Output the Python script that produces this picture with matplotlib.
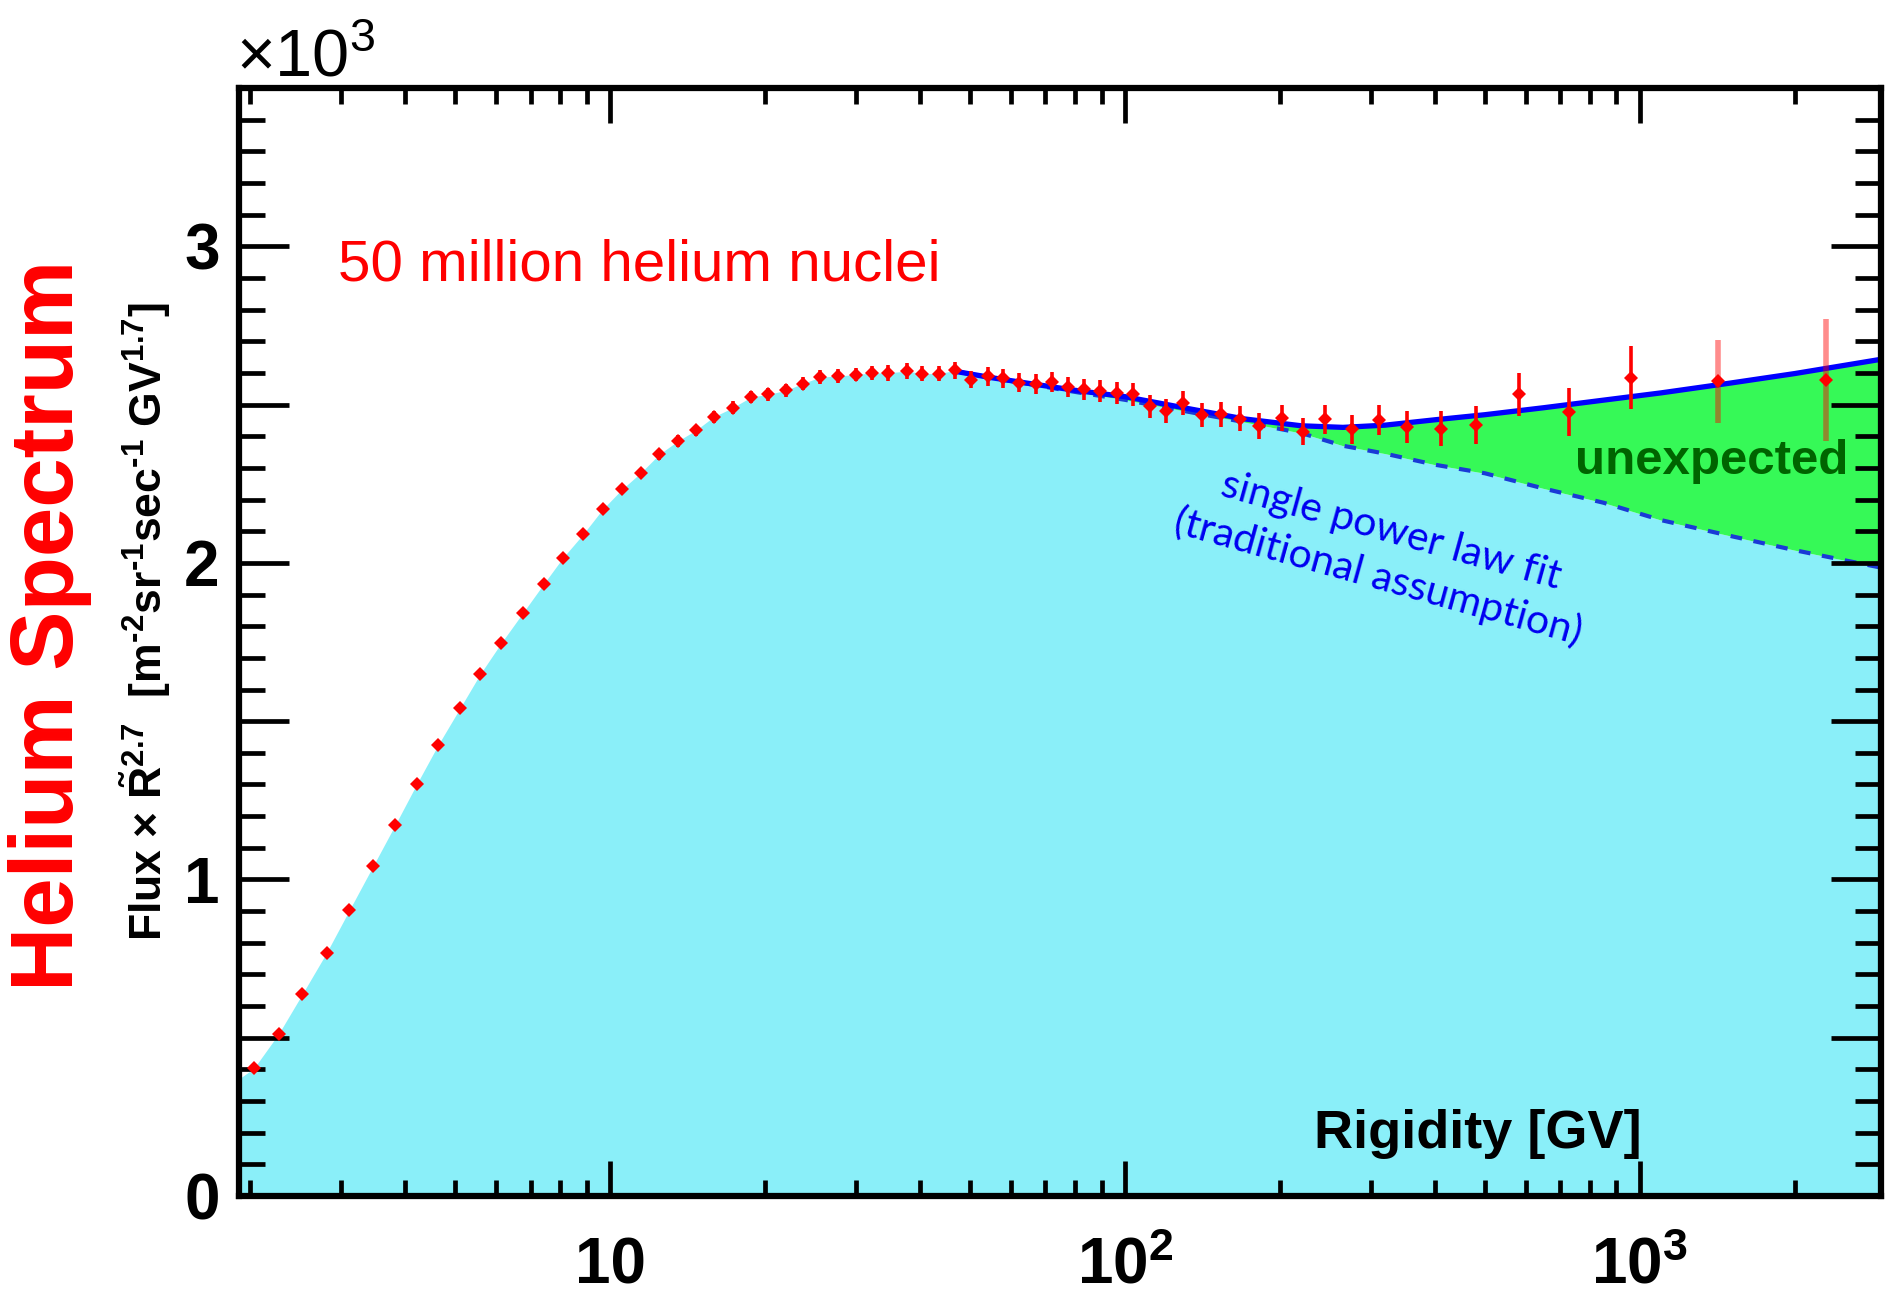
import numpy as np
import matplotlib
matplotlib.use("Agg")
import matplotlib.pyplot as plt
from matplotlib.ticker import (FixedLocator, MultipleLocator, NullFormatter,
                               FuncFormatter, LogLocator)

plt.rcParams['font.family'] = ['Liberation Sans', 'DejaVu Sans']
plt.rcParams['mathtext.default'] = 'regular'

# Helium flux x R^2.7 (units of 10^3 m^-2 sr^-1 s^-1 GV^1.7) vs rigidity (GV)
rigidity = [2.03, 2.27, 2.52, 2.81, 3.11, 3.46, 3.82, 4.21, 4.63, 5.11,
            5.59, 6.14, 6.77, 7.42, 8.08, 8.85, 9.66, 10.53, 11.47, 12.45,
            13.53, 14.67, 15.87, 17.28, 18.78, 20.24, 21.93, 23.63, 25.57, 27.63,
            30.00, 32.23, 34.56, 37.68, 40.29, 43.41, 46.77, 50.16, 54.11, 58.04,
            62.27, 67.19, 72.05, 77.6, 83.4, 89.4, 96.3, 103.8, 111.8, 120.1,
            129.8, 140.9, 153.6, 167.2, 182.3, 201.5, 221.3, 244.5, 275.4, 311.3,
            352.4, 410.9, 480.4, 582.1, 727.9, 960.5, 1419.0, 2304.0]
flux = [0.403, 0.513, 0.637, 0.768, 0.902, 1.042, 1.172, 1.302, 1.425, 1.542,
        1.649, 1.747, 1.843, 1.933, 2.015, 2.090, 2.169, 2.232, 2.285, 2.343,
        2.385, 2.419, 2.461, 2.490, 2.524, 2.532, 2.545, 2.566, 2.587, 2.590,
        2.595, 2.600, 2.600, 2.606, 2.598, 2.598, 2.608, 2.579, 2.590, 2.583,
        2.569, 2.564, 2.572, 2.556, 2.548, 2.543, 2.537, 2.532, 2.495, 2.480,
        2.506, 2.467, 2.469, 2.456, 2.432, 2.458, 2.414, 2.453, 2.422, 2.451,
        2.429, 2.424, 2.434, 2.532, 2.476, 2.585, 2.574, 2.577]
flux_err = [0.010, 0.010, 0.010, 0.010, 0.010, 0.010, 0.010, 0.010, 0.010, 0.010,
            0.012, 0.012, 0.012, 0.012, 0.012, 0.015, 0.015, 0.015, 0.015, 0.018,
            0.018, 0.018, 0.020, 0.020, 0.020, 0.020, 0.020, 0.020, 0.022, 0.022,
            0.022, 0.022, 0.024, 0.024, 0.024, 0.025, 0.028, 0.028, 0.030, 0.030,
            0.030, 0.032, 0.032, 0.032, 0.034, 0.034, 0.035, 0.035, 0.036, 0.037,
            0.038, 0.039, 0.040, 0.040, 0.041, 0.042, 0.043, 0.045, 0.046, 0.048,
            0.050, 0.056, 0.060, 0.068, 0.076, 0.099, 0.131, 0.193]

# Fitted curves above 45 GV
fit_R = [46.8, 55, 65, 80, 100, 130, 170, 220, 265, 320, 400, 500, 650, 850,
         1100, 1500, 2000, 2940]
fit_broken = [2.605, 2.585, 2.567, 2.545, 2.525, 2.490, 2.455, 2.433, 2.428, 2.435,
              2.452, 2.468, 2.490, 2.514, 2.537, 2.568, 2.598, 2.643]
fit_single = [2.605, 2.585, 2.565, 2.540, 2.515, 2.480, 2.445, 2.410, 2.370, 2.345,
              2.310, 2.283, 2.235, 2.190, 2.135, 2.085, 2.040, 1.985]

# Spectrum value at the lower edge of the rigidity range
edge_R = 1.9
edge_flux = 0.37

CYAN = '#8AEFF9'
GREEN = '#36F957'

fig = plt.figure(figsize=(18.94, 12.94), dpi=100)
ax = fig.add_axes([0.1262, 0.0757, 0.8669, 0.8563])
ax.set_xscale('log')
ax.set_xlim(1.9, 2940)
ax.set_ylim(0, 3.5)

# Shaded areas: expected spectrum (cyan) and the excess over a single power law (green)
low_R = [r for r in rigidity if r < fit_R[0]]
low_F = [f for r, f in zip(rigidity, flux) if r < fit_R[0]]
bound_R = [edge_R] + low_R + fit_R
bound_F = [edge_flux] + low_F + fit_single
ax.fill_between(bound_R, 0, bound_F, color=CYAN, lw=0, zorder=1)
ax.fill_between(fit_R, fit_single, fit_broken, color=GREEN, lw=0, zorder=1.1)

ax.plot(fit_R, fit_single, color='#1A3AD6', lw=3.0, dashes=(2.8, 2.8), zorder=2)
ax.plot(fit_R, fit_broken, color='#0000FF', lw=3.8, zorder=2.1)

# Measurements
R = np.array(rigidity)
F = np.array(flux)
E = np.array(flux_err)
solid = R < 1000
ax.errorbar(R[solid], F[solid], yerr=E[solid], fmt='none', ecolor='#FF0000',
            elinewidth=2.6, capsize=0, zorder=3)
ax.errorbar(R[~solid], F[~solid], yerr=E[~solid], fmt='none', ecolor='#FF0000',
            elinewidth=4.0, capsize=0, alpha=0.45, zorder=3)
ax.plot(R, F, 'D', color='#FF0000', ms=7.0, mew=0, zorder=3.2)

# Axes styling
ax.set_axisbelow(False)
ax.xaxis.set_major_locator(FixedLocator([10, 100, 1000]))
ax.set_xticklabels(['10', '10$^{2}$', '10$^{3}$'])
ax.xaxis.set_minor_locator(LogLocator(base=10, subs=np.arange(2, 10), numticks=30))
ax.xaxis.set_minor_formatter(NullFormatter())
ax.yaxis.set_major_locator(MultipleLocator(0.5))
ax.yaxis.set_major_formatter(FuncFormatter(
    lambda v, p: f'{int(round(v))}' if abs(v - round(v)) < 1e-6 else ''))
ax.yaxis.set_minor_locator(MultipleLocator(0.1))

ax.tick_params(axis='x', which='major', direction='in', length=25, width=3.4,
               top=True, pad=63, labelsize=46)
ax.tick_params(axis='x', which='minor', direction='in', length=11.5, width=3.4, top=True)
ax.tick_params(axis='y', which='major', direction='in', length=36, width=3.4,
               right=True, pad=14, labelsize=46)
ax.tick_params(axis='y', which='minor', direction='in', length=18.7, width=3.4, right=True)
for lbl in ax.get_xticklabels():
    lbl.set_fontweight('bold')
    lbl.set_verticalalignment('baseline')
for lbl in ax.get_yticklabels():
    lbl.set_fontweight('bold')
for s in ax.spines.values():
    s.set_linewidth(4.5)
    s.set_zorder(5)

# Annotations
fig.text(0.1246, 0.9405, '×10$^{3}$', fontsize=48, ha='left', va='baseline')
ax.text(0.0603, 0.8267, '50 million helium nuclei', transform=ax.transAxes,
        color='#FF0000', fontsize=42, ha='left', va='baseline')
ax.text(0.8136, 0.6516, 'unexpected', transform=ax.transAxes, color='#006400',
        fontsize=35.5, fontweight='bold', ha='left', va='baseline')
ax.text(0.6547, 0.0433, 'Rigidity [GV]', transform=ax.transAxes, color='black',
        fontsize=39, fontweight='bold', ha='left', va='baseline')
ax.text(0.6975, 0.5790, 'single power law fit\n(traditional assumption)',
        transform=ax.transAxes, color='#0000F0', fontsize=29.5, family='Lato',
        rotation=-15.5, rotation_mode='anchor', ha='center', va='center',
        multialignment='center', linespacing=1.3)

fig.text(0.0766, 0.5193,
         'Flux × $\\tilde{R}^{2.7}$  [m$^{\u20102}$sr$^{\u20101}$sec$^{\u20101}$ GV$^{1.7}$]',
         rotation=90, ha='center', va='center', fontsize=32, fontweight='bold')
fig.text(0.0264, 0.517, 'Helium Spectrum', rotation=90, ha='center', va='center',
         fontsize=64, fontweight='bold', color='#FF0000')

fig.savefig('out.png', dpi=100)
